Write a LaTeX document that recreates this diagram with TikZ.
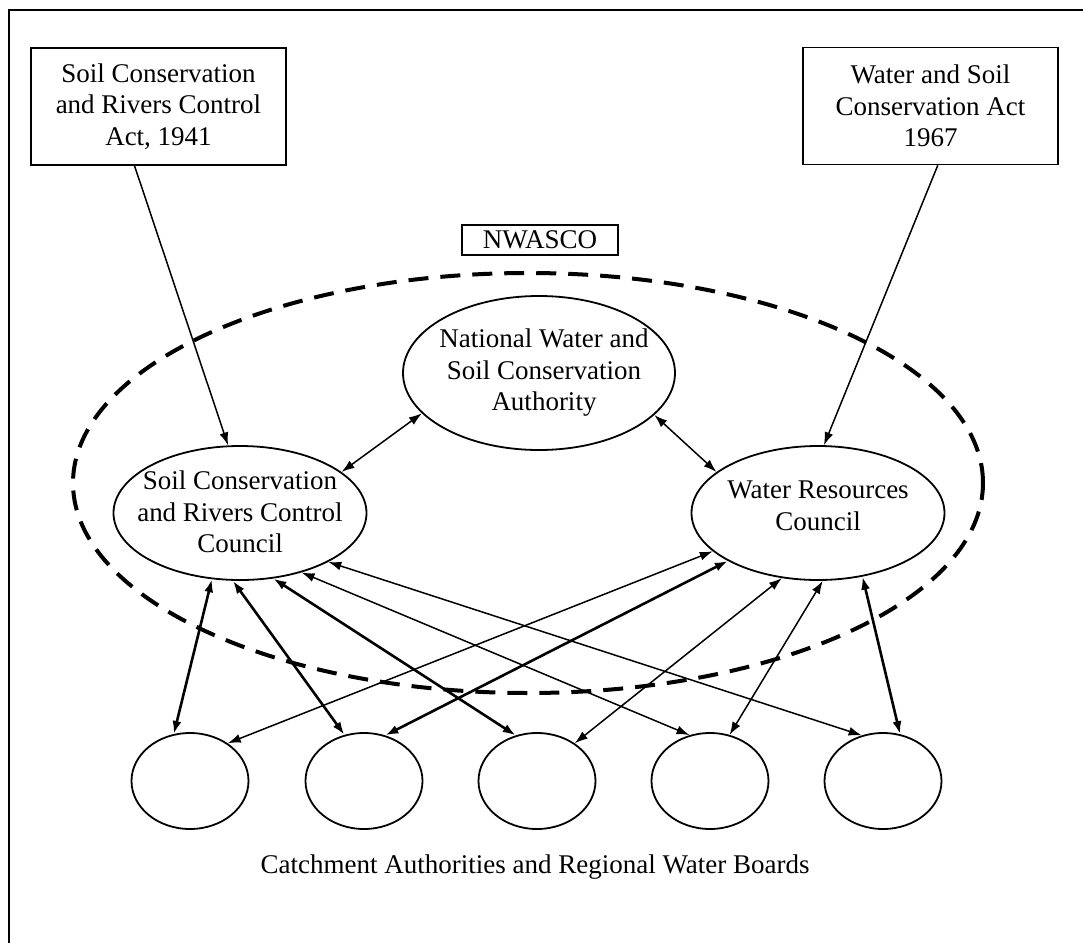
\documentclass[tikz,border=0pt]{standalone}
\usepackage{fontspec}
\setmainfont{Liberation Serif}
\usetikzlibrary{arrows.meta,shapes.geometric}
\begin{document}
\begin{tikzpicture}[x=0.5pt,y=-0.5pt,
	font=\fontsize{13.5}{15.75}\selectfont,
	act/.style={draw,line width=0.8pt,minimum width=127.5pt,minimum height=58.5pt,align=center,inner sep=0pt},
	body/.style={draw,ellipse,line width=0.9pt,inner sep=0pt},
	council/.style={body,minimum width=126.5pt,minimum height=67pt},
	board/.style={body,minimum width=58.5pt,minimum height=48pt},
	txt/.style={align=center,inner sep=0pt},
	link/.style={line width=0.75pt,-{Latex[length=6.5pt,width=4.5pt]}},
	both/.style={line width=0.75pt,{Latex[length=6.5pt,width=4.5pt]}-{Latex[length=6.5pt,width=4.5pt]}},
	heavy/.style={line width=1.3pt}]
	\useasboundingbox (0,0) rectangle (1083,943);
	\draw [line width=1pt] (9,943) -- (9,10) -- (1083,10);
	\node [act] (scra) at (158.5,106.5) {Soil Conservation\\and Rivers Control\\Act, 1941};
	\node [act] (wsca) at (930.5,106) {Water and Soil\\Conservation Act\\1967};
	\node [draw,line width=0.8pt,minimum width=78pt,minimum height=15pt,inner sep=0pt] (nwasco) at (540,240) {NWASCO};
	\draw [line width=2pt,dash pattern=on 10pt off 6pt] (528,483) ellipse (227.5pt and 105pt);
	\node [body,minimum width=136pt,minimum height=77pt] (nwsca) at (539,373) {};
	\node [txt] at (544,373) {National Water and\\Soil Conservation\\Authority};
	\node [council] (scrc) at (240,513) {};
	\node [txt] at (240,512) {Soil Conservation\\and Rivers Control\\Council};
	\node [council] (wrc) at (818,513) {};
	\node [txt] at (818,506) {Water Resources\\Council};
	\foreach \x [count=\i] in {190,364,537,710,883}
		\node [board] (cab\i) at (\x,781) {};
	\node (boards) at (535,867) {Catchment Authorities and Regional Water Boards};
	\draw [link] (scra.-112) -- (scrc.100);
	\draw [link] (wsca.-83) -- (wrc.85);
	\draw [both] (nwsca.-161) -- (scrc.22);
	\draw [both] (nwsca.-20) -- (wrc.158);
	\draw [both,heavy] (scrc.-113) -- (cab1.109);
	\draw [both,heavy] (scrc.-96) -- (cab2.113);
	\draw [both,heavy] (scrc.-63) -- (cab3.115);
	\draw [both] (scrc.-44) -- (cab4.114);
	\draw [both] (scrc.-29) -- (cab5.115);
	\draw [both] (wrc.-160) -- (cab1.45);
	\draw [both,heavy] (wrc.-152) -- (cab2.65);
	\draw [both] (wrc.-119) -- (cab3.45);
	\draw [both] (wrc.-86) -- (cab4.67);
	\draw [both,heavy] (wrc.-55) -- (cab5.70);
\end{tikzpicture}
\end{document}
